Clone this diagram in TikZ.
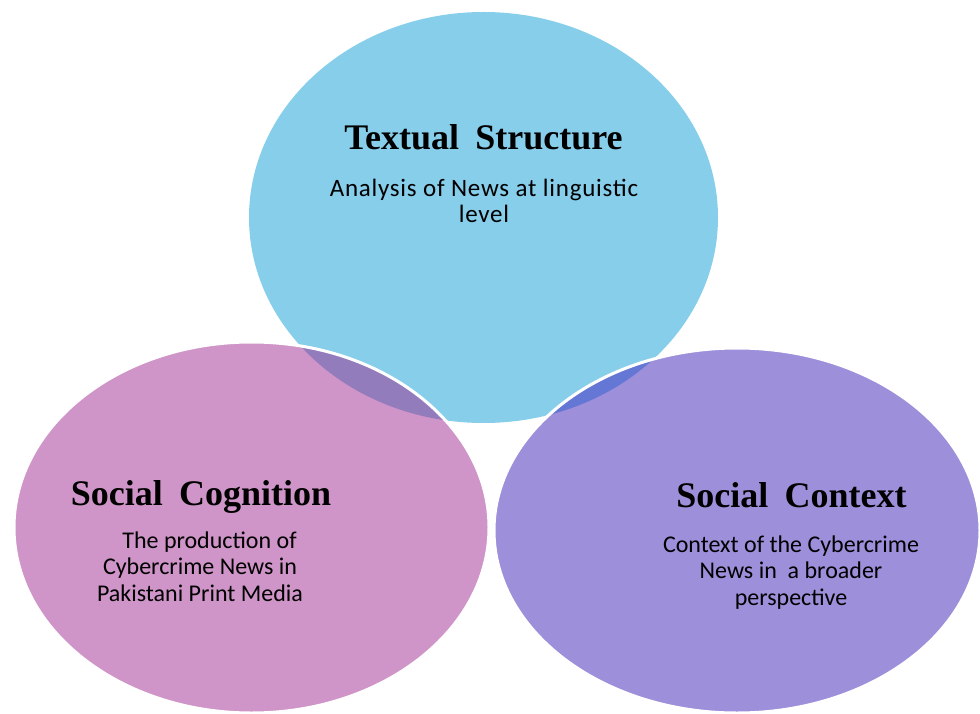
\documentclass[tikz,border=0pt]{standalone}
\usepackage{fontspec}
\setmainfont{Liberation Serif}
\newfontfamily\subfont{Carlito}
\newfontfamily\subfontwide[LetterSpace=3]{Carlito}
\definecolor{cblue}{RGB}{135,206,235}
\definecolor{cpink}{RGB}{207,148,200}
\definecolor{cpurple}{RGB}{157,143,218}
\definecolor{lensA}{RGB}{146,124,188}
\definecolor{lensB}{RGB}{101,119,212}
\tikzset{
  titletext/.style={anchor=base, inner sep=0pt, font=\fontsize{36}{40}\selectfont\bfseries},
  subtext/.style={anchor=base, inner sep=0pt, font=\subfont\fontsize{24}{26.5}\selectfont},
  subtextwide/.style={anchor=base, inner sep=0pt, font=\subfontwide\fontsize{25}{26.5}\selectfont},
  rim/.style={draw=white, line width=3pt}
}
\newcommand{\blueE}{(483.5,217.5) ellipse [x radius=234.5pt, y radius=205.5pt]}
\newcommand{\pinkE}{(251.5,527.5) ellipse [x radius=237.5pt, y radius=185.5pt]}
\newcommand{\purpE}{(737,530.5) ellipse [x radius=243pt, y radius=182.5pt]}
\begin{document}
\begin{tikzpicture}[x=1pt,y=-1pt]
\useasboundingbox (0,0) rectangle (980,714);
% top ellipse
\fill[cblue] \blueE;
% left ellipse
\fill[cpink] \pinkE;
\begin{scope}
  \clip \pinkE;
  \fill[lensA] \blueE;
\end{scope}
\draw[rim] \pinkE;
% right ellipse
\fill[cpurple] \purpE;
\begin{scope}
  \clip \purpE;
  \fill[lensB] \blueE;
\end{scope}
\draw[rim] \purpE;
% texts
\node[titletext] (t1) at (483.5,150) {Textual\hspace{0.45em}Structure};
\node[subtextwide] (s1) at (484,196.5) {\begin{tabular}[t]{@{}c@{}}Analysis of News at linguistic\\ level\end{tabular}};
\node[titletext] (t2) at (201,505) {Social\hspace{0.45em}Cognition};
\node[subtext] (s2) at (200,548) {\begin{tabular}[t]{@{}c@{}}\hspace{19pt}The production of\\ Cybercrime News in\\ Pakistani Print Media\end{tabular}};
\node[titletext] (t3) at (791.5,507) {Social\hspace{0.45em}Context};
\node[subtext] (s3) at (791,552) {\begin{tabular}[t]{@{}c@{}}Context of the Cybercrime\\ News in\ \ a broader\\ perspective\end{tabular}};
\end{tikzpicture}
\end{document}
